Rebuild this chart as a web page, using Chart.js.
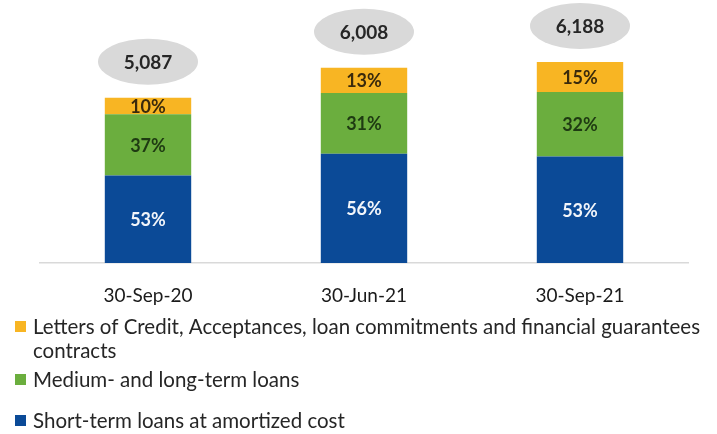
<!DOCTYPE html>
<html>
<head>
<meta charset="utf-8">
<script src="https://cdn.jsdelivr.net/npm/chart.js@4.4.0/dist/chart.umd.min.js"></script>
<style>
  html, body { margin: 0; padding: 0; background: #fff; }
</style>
</head>
<body>
<canvas id="chart" width="717" height="434"></canvas>
<script>
const categories = ['30-Sep-20', '30-Jun-21', '30-Sep-21'];
const totals = [5087, 6008, 6188];
const shortTermShare = [53, 56, 53];
const mediumLongShare = [37, 31, 32];
const lettersShare = [10, 13, 15];

const seriesNames = [
  'Short-term loans at amortized cost',
  'Medium- and long-term loans',
  'Letters of Credit, Acceptances, loan commitments and financial guarantees contracts'
];
const colors = ['#0B4A97', '#6BAE3E', '#F8B523'];
const labelColors = ['#F2F5FA', '#1E3A12', '#3A2A0C'];
const FONT = 'Lato, "Liberation Sans", sans-serif';

const shares = [shortTermShare, mediumLongShare, lettersShare];
const segment = (share) => share.map((p, i) => totals[i] * p / 100);

// percentage inside each segment
const segmentLabels = {
  id: 'segmentLabels',
  afterDatasetsDraw(chart) {
    const ctx = chart.ctx;
    ctx.save();
    ctx.font = 'bold 18px ' + FONT;
    ctx.textAlign = 'center';
    ctx.textBaseline = 'middle';
    chart.data.datasets.forEach((ds, d) => {
      chart.getDatasetMeta(d).data.forEach((bar, i) => {
        ctx.fillStyle = labelColors[d];
        ctx.fillText(shares[d][i] + '%', bar.x, (bar.y + bar.base) / 2 + 1);
      });
    });
    ctx.restore();
  }
};

// grey ellipse with the total above each bar
const totalBubbles = {
  id: 'totalBubbles',
  afterDatasetsDraw(chart) {
    const ctx = chart.ctx;
    const xs = chart.scales.x, ys = chart.scales.y;
    ctx.save();
    totals.forEach((t, i) => {
      const cx = xs.getPixelForValue(i);
      const cy = ys.getPixelForValue(t) - 36;
      ctx.fillStyle = '#D9D9D9';
      ctx.beginPath();
      ctx.ellipse(cx, cy, 50, 23, 0, 0, Math.PI * 2);
      ctx.fill();
      ctx.fillStyle = '#262626';
      ctx.font = 'bold 19px ' + FONT;
      ctx.textAlign = 'center';
      ctx.textBaseline = 'middle';
      ctx.fillText(t.toLocaleString('en-US'), cx, cy + 1);
    });
    ctx.restore();
  }
};

// legend drawn under the axis, wrapped like the original
const customLegend = {
  id: 'customLegend',
  afterDraw(chart) {
    const ctx = chart.ctx;
    ctx.save();
    ctx.font = '18px ' + FONT;
    const firstLine = 'Letters of Credit, Acceptances, loan commitments and financial guarantees';
    const size = 18 * 667 / ctx.measureText(firstLine).width;
    ctx.font = size.toFixed(2) + 'px ' + FONT;
    ctx.textBaseline = 'middle';
    const rows = [
      { d: 2, lines: [firstLine, 'contracts'], y: 327 },
      { d: 1, lines: ['Medium- and long-term loans'], y: 380 },
      { d: 0, lines: ['Short-term loans at amortized cost'], y: 421 }
    ];
    rows.forEach(r => {
      ctx.fillStyle = colors[r.d];
      ctx.fillRect(15, r.y - 6, 11, 11);
      ctx.fillStyle = '#262626';
      r.lines.forEach((l, k) => ctx.fillText(l, 33, r.y + k * 24));
    });
    ctx.restore();
  }
};

new Chart(document.getElementById('chart'), {
  type: 'bar',
  data: {
    labels: categories,
    datasets: shares.map((s, d) => ({
      label: seriesNames[d],
      data: segment(s),
      backgroundColor: colors[d],
      borderWidth: 0,
      barPercentage: 0.4,
      categoryPercentage: 1
    }))
  },
  options: {
    responsive: false,
    animation: false,
    devicePixelRatio: 1,
    layout: { padding: { left: 40, right: 29, top: 3, bottom: 0 } },
    plugins: { legend: { display: false }, tooltip: { enabled: false } },
    scales: {
      x: {
        stacked: true,
        grid: { display: false },
        border: { color: '#D9D9D9', width: 1.5 },
        ticks: { color: '#1A1A1A', font: { family: FONT, size: 19 }, padding: 13 },
        afterFit: (scale) => { scale.height = 171; }
      },
      y: {
        stacked: true,
        display: false,
        min: 0,
        max: 8000
      }
    }
  },
  plugins: [segmentLabels, totalBubbles, customLegend]
});
</script>
</body>
</html>
